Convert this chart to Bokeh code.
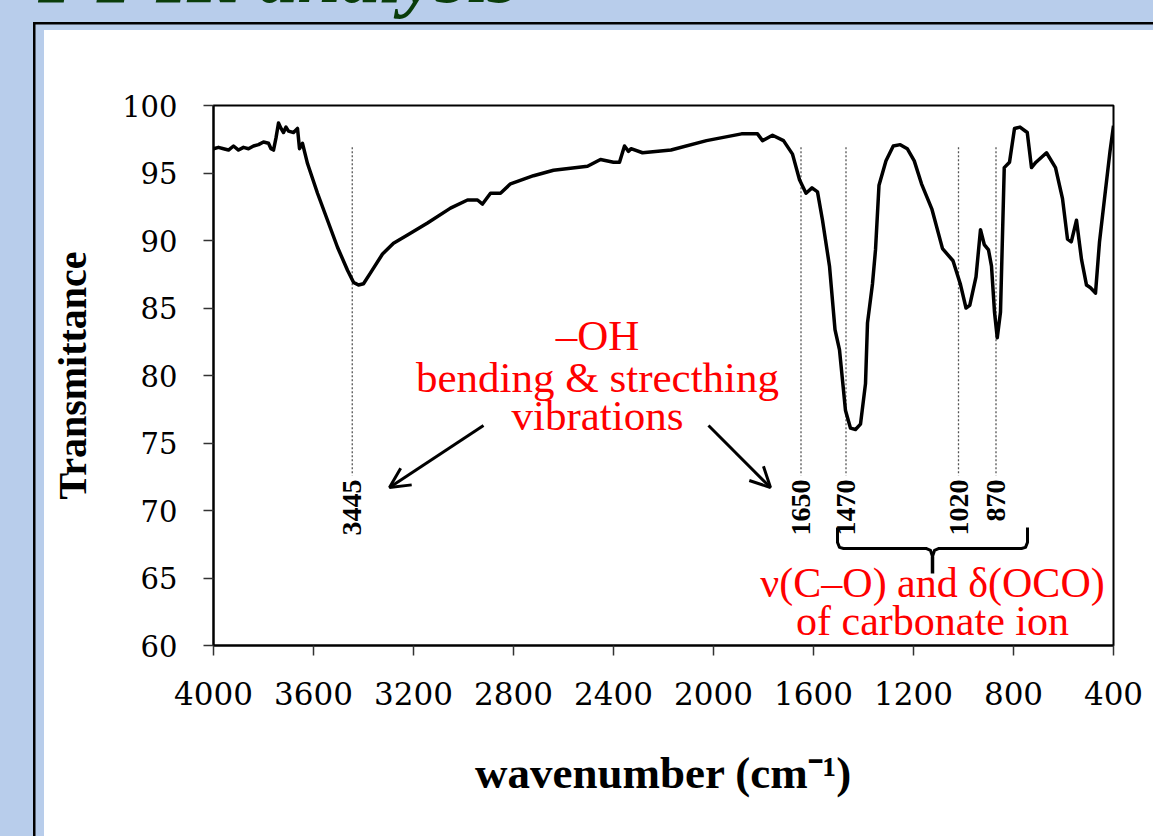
import math

from bokeh.core.properties import value
from bokeh.embed import file_html
from bokeh.layouts import column
from bokeh.models import (Arrow, ColumnDataSource, Div, FixedTicker, Label,
                          OpenHead, Range1d)
from bokeh.plotting import figure
from bokeh.resources import INLINE

# FT-IR spectrum (wavenumber in cm-1, transmittance in %)
wavenumber = [
    4000, 3980, 3960, 3940, 3920, 3900, 3880, 3860, 3840, 3820, 3800, 3780,
    3770, 3760, 3750, 3740, 3730, 3720, 3710, 3700, 3680, 3664, 3656, 3644,
    3624, 3584, 3544, 3504, 3464, 3440, 3420, 3400, 3372, 3324, 3280, 3224,
    3144, 3052, 2984, 2944, 2924, 2892, 2852, 2812, 2720, 2640, 2504, 2452,
    2400, 2376, 2356, 2340, 2330, 2284, 2170, 2028, 1888, 1824, 1804, 1764,
    1720, 1684, 1656, 1630, 1606, 1584, 1564, 1536, 1514, 1496, 1472, 1452,
    1432, 1412, 1392, 1384, 1364, 1352, 1338, 1310, 1281, 1253, 1225, 1197,
    1168, 1126, 1084, 1042, 1013, 990, 975, 950, 932, 917, 900, 888, 876,
    865, 852, 837, 816, 796, 774, 745, 728, 710, 668, 632, 604, 584, 569,
    548, 528, 508, 492, 472, 456, 436, 414, 400,
]
transmittance = [
    96.8, 96.9, 96.8, 96.7, 97.0, 96.7, 96.9, 96.8, 97.0, 97.1, 97.3, 97.2,
    96.8, 96.7, 97.6, 98.7, 98.3, 98.0, 98.4, 98.1, 98.0, 98.3, 96.8, 97.2,
    95.7, 93.5, 91.5, 89.5, 87.8, 86.9, 86.7, 86.8, 87.6, 89.0, 89.8, 90.4,
    91.3, 92.4, 93.0, 93.0, 92.7, 93.5, 93.5, 94.2, 94.8, 95.2, 95.5, 96.0,
    95.8, 95.8, 97.0, 96.6, 96.8, 96.5, 96.7, 97.4, 97.9, 97.9, 97.4, 97.8,
    97.4, 96.4, 94.5, 93.5, 93.9, 93.6, 91.5, 88.1, 83.4, 81.9, 77.4, 76.1,
    76.0, 76.4, 79.4, 83.9, 86.8, 89.3, 94.1, 95.9, 97.0, 97.1, 96.8, 95.9,
    94.2, 92.3, 89.4, 88.5, 86.8, 85.0, 85.2, 87.3, 90.8, 89.7, 89.3, 88.1,
    84.7, 82.8, 84.7, 95.4, 95.8, 98.3, 98.4, 98.0, 95.4, 95.8, 96.5, 95.4,
    93.1, 90.1, 89.9, 91.5, 88.6, 86.7, 86.5, 86.1, 89.9, 93.1, 96.6, 98.5,
]

# assigned bands
peak_positions = [3445, 1650, 1470, 1020, 870]
peak_labels = ["3445", "1650", "1470", "1020", "870"]

x_ticks = [4000, 3600, 3200, 2800, 2400, 2000, 1600, 1200, 800, 400]
y_ticks = [60, 65, 70, 75, 80, 85, 90, 95, 100]

SLIDE_BLUE = "#B8CDEB"
TITLE_GREEN = "#0A3D0A"
RED = "#FF0000"

W, H = 1153, 836
TOP_H = 30

# slide heading, running off the top edge of the slide
heading = Div(
    text=("<span style=\"position:relative; top:-63px; left:38px; "
          "font-family:'Liberation Serif'; font-weight:bold; font-style:italic; "
          "font-size:78px; line-height:78px; white-space:nowrap; "
          f"color:{TITLE_GREEN};\">FT-IR analysis</span>"),
    width=W, height=TOP_H, margin=0, styles={"overflow": "hidden"},
)

# chart card (transparent margin shows the slide backdrop)
p = figure(
    width=W, height=H - TOP_H,
    x_range=Range1d(4000, 400), y_range=Range1d(60, 100),
    output_backend="svg", toolbar_location=None, margin=0,
    min_border_left=213, min_border_right=40,
    min_border_top=75, min_border_bottom=191,
    border_fill_color=None, background_fill_color="white",
    outline_line_color="black", outline_line_width=2, outline_line_alpha=1.0,
)
p.grid.visible = False

p.xaxis.ticker = FixedTicker(ticks=x_ticks)
p.yaxis.ticker = FixedTicker(ticks=y_ticks)
for ax in (p.xaxis, p.yaxis):
    ax.axis_line_color = "black"
    ax.axis_line_width = 2
    ax.major_tick_line_color = "#333333"
    ax.major_tick_line_width = 1.5
    ax.major_tick_in = 0
    ax.major_tick_out = 10
    ax.minor_tick_line_color = None
    ax.major_label_text_color = "black"
    ax.major_label_text_font = "DejaVu Serif"
    ax.axis_label_text_color = "black"
    ax.axis_label_text_font = "Liberation Serif"
    ax.axis_label_text_font_style = "bold"

p.xaxis.major_label_text_font_size = "31px"
p.xaxis.major_label_standoff = 26
p.xaxis.axis_label = "wavenumber (cm\u207b\u00b9)"
p.xaxis.axis_label_text_font_size = "45px"
p.xaxis.axis_label_standoff = 40

p.yaxis.major_label_text_font_size = "29px"
p.yaxis.major_label_standoff = 26
p.yaxis.axis_label = "Transmittance"
p.yaxis.axis_label_text_font_size = "40px"
p.yaxis.axis_label_standoff = 24

# band markers
peaks = ColumnDataSource(dict(x=peak_positions, label=peak_labels,
                              top=[96.9] * len(peak_positions),
                              bottom=[72.6] * len(peak_positions),
                              text_y=[72.3] * len(peak_positions)))
p.segment(x0="x", y0="top", x1="x", y1="bottom", source=peaks,
          line_color="#555555", line_width=1.3, line_dash="2 2")
p.text(x="x", y="text_y", text="label", source=peaks, angle=math.pi / 2,
       text_align="right", text_baseline="middle",
       text_font=value("Liberation Serif"), text_font_style="bold",
       text_font_size="28px", text_color="black")

# spectrum
p.line(wavenumber, transmittance, line_color="black", line_width=3.5,
       line_join="round")

# -OH annotation
for txt, y in (("\u2013OH", 82.95), ("bending & strecthing", 79.85),
               ("vibrations", 77.05)):
    p.add_layout(Label(x=2464, y=y, text=txt, text_align="center",
                       text_baseline="alphabetic", text_font="Liberation Serif",
                       text_font_size="43px", text_color=RED))
for xs, xe in ((2920, 3296), (2020, 1772)):
    p.add_layout(Arrow(end=OpenHead(size=20, line_width=3, line_color="black"),
                       x_start=xs, y_start=76.3, x_end=xe, y_end=71.7,
                       line_width=3, line_color="black"))

# carbonate brace and annotation
b_left, b_right, b_mid = 1504, 744, 1124
b_top, b_bar, b_tip = 68.74, 67.19, 65.33
p.line([b_left, b_left, b_left - 8, b_left - 24, b_mid + 26, b_mid + 8, b_mid,
        b_mid - 8, b_mid - 26, b_right + 24, b_right + 8, b_right, b_right],
       [b_top, b_bar + 0.45, b_bar + 0.08, b_bar, b_bar, b_bar - 0.15,
        b_bar - 0.6, b_bar - 0.15, b_bar, b_bar, b_bar + 0.08, b_bar + 0.45,
        b_top],
       line_color="black", line_width=3, line_join="round")
p.line([b_mid, b_mid], [b_bar - 0.6, b_tip], line_color="black", line_width=3.5)

for txt, y in (("\u03bd(C\u2013O) and \u03b4(OCO)", 64.6),
               ("of carbonate ion", 61.85)):
    p.add_layout(Label(x=b_mid, y=y, text=txt, text_align="center",
                       text_baseline="alphabetic", text_font="Liberation Serif",
                       text_font_size="42px", text_color=RED))

# slide backdrop: blue margin, dark rule, then the white card
slide_style = {
    "background-color": "white",
    "box-shadow": (f"inset 33px 22px 0 0 {SLIDE_BLUE}, "
                   "inset 35.5px 24.5px 0 0 black, "
                   f"inset 44px 30px 0 0 {SLIDE_BLUE}"),
}
page = column(heading, p, spacing=0, width=W, height=H, styles=slide_style)
open("out.html", "w").write(file_html(page, INLINE))
